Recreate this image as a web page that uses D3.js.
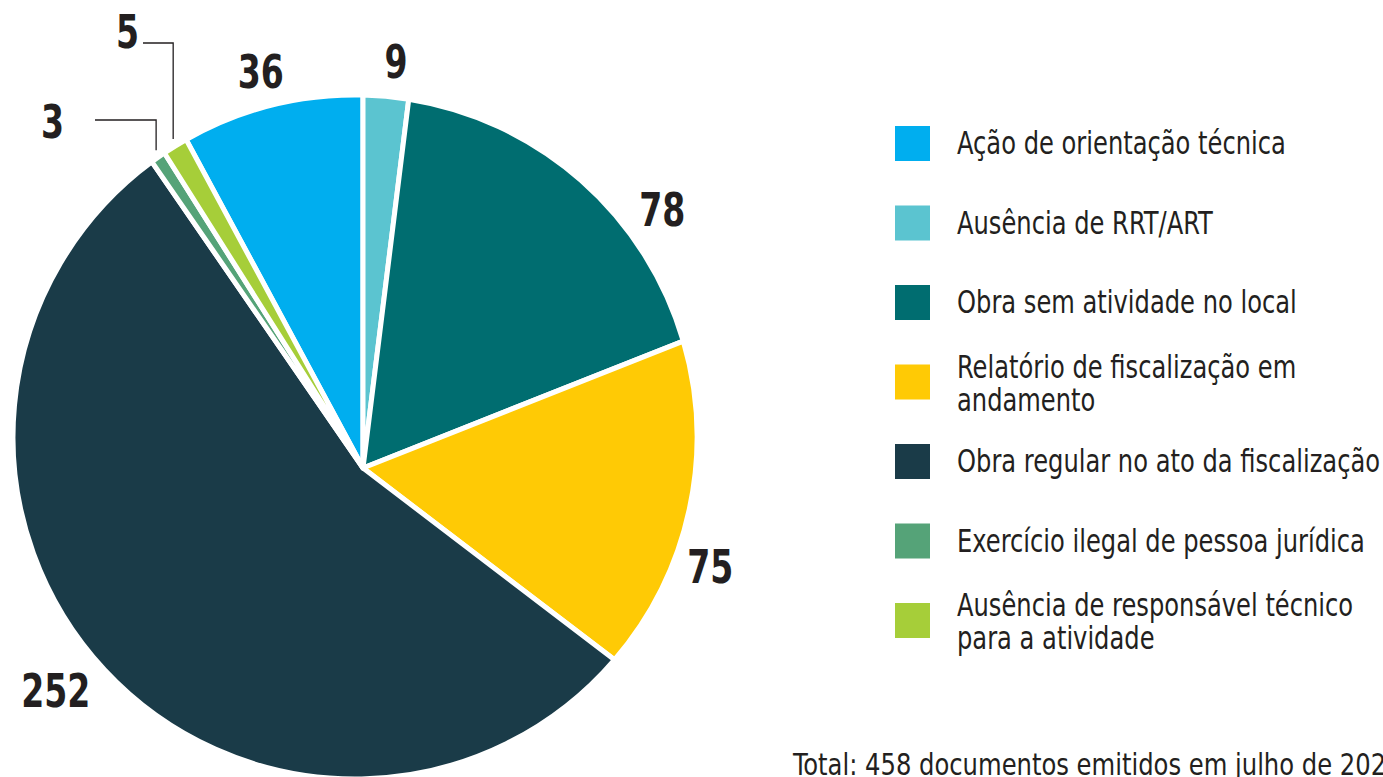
<!doctype html>
<html lang="pt">
<head>
<meta charset="utf-8">
<title>Documentos emitidos</title>
<style>
  html, body { margin: 0; padding: 0; background: #fff; }
  svg text { font-family: "Liberation Sans Narrow", "DejaVu Sans Condensed", sans-serif; fill: #231f20; }
</style>
</head>
<body>
<div id="chart"></div>
<script src="https://cdn.jsdelivr.net/npm/d3@7"></script>
<script>
// data, in legend order
var categories = [
  "Ação de orientação técnica",
  "Ausência de RRT/ART",
  "Obra sem atividade no local",
  "Relatório de fiscalização em andamento",
  "Obra regular no ato da fiscalização",
  "Exercício ilegal de pessoa jurídica",
  "Ausência de responsável técnico para a atividade"
];
var values = [36, 9, 78, 75, 252, 3, 5];
var colors = ["#00aeef", "#5bc4d0", "#006d70", "#ffca05", "#1a3b48", "#55a378", "#a6ce39"];
var footerText = "Total: {n} documentos emitidos em julho de 2024";

// legend lines (wrapped as in the picture)
var legendLines = [
  ["Ação de orientação técnica"],
  ["Ausência de RRT/ART"],
  ["Obra sem atividade no local"],
  ["Relatório de fiscalização em", "andamento"],
  ["Obra regular no ato da fiscalização"],
  ["Exercício ilegal de pessoa jurídica"],
  ["Ausência de responsável técnico", "para a atividade"]
];

var W = 1383, H = 777;
var narrow = 0.84;   // squeeze DejaVu Condensed to the narrow face of the original
var svg = d3.select("#chart").append("svg")
    .attr("width", W).attr("height", H);

// pie geometry: outline circle and the (slightly off-centre) apex
var C = {x: 355, y: 437}, R = 342;
var P = {x: 363, y: 468};

var total = d3.sum(values);
var a0 = values[0] / total * 2 * Math.PI;   // first slice sits just left of 12 o'clock
var pie = d3.pie().sort(null).startAngle(-a0).endAngle(2 * Math.PI - a0);
var arcs = pie(values);

// point where a ray from the apex at angle t meets the outline
function rim(t) {
  var ux = Math.sin(t), uy = -Math.cos(t);
  var wx = P.x - C.x, wy = P.y - C.y;
  var b = wx * ux + wy * uy;
  var c = wx * wx + wy * wy - R * R;
  var s = -b + Math.sqrt(b * b - c);
  return {x: P.x + s * ux, y: P.y + s * uy};
}

function slicePath(d) {
  var A = rim(d.startAngle), B = rim(d.endAngle);
  var fa = Math.atan2(A.y - C.y, A.x - C.x), fb = Math.atan2(B.y - C.y, B.x - C.x);
  var span = fb - fa; if (span < 0) span += 2 * Math.PI;
  var p = d3.path();
  p.moveTo(P.x, P.y);
  p.lineTo(A.x, A.y);
  p.arc(C.x, C.y, R, fa, fa + span, false);
  p.closePath();
  return p.toString();
}

svg.append("g").selectAll("path")
  .data(arcs)
  .enter().append("path")
    .attr("d", slicePath)
    .attr("fill", function(d, i) { return colors[i]; })
    .attr("stroke", "#fff")
    .attr("stroke-width", 5)
    .attr("stroke-linejoin", "round");

// value labels for the bigger slices
var labelR = [378, 378, 382, 378, 392, 0, 0];
var labelTweak = [-0.3, 2.7, 15.8, 12.1, 3.4, 0, 0];   // degrees, hand placement
svg.append("g").selectAll("text")
  .data(arcs.filter(function(d) { return d.value > 5; }))
  .enter().append("text")
    .attr("transform", function(d) {
      var t = (d.startAngle + d.endAngle) / 2 + labelTweak[d.index] * Math.PI / 180;
      var r = labelR[d.index];
      return "translate(" + (C.x + r * Math.sin(t)) + "," + (C.y - r * Math.cos(t)) + ") scale(0.8,1)";
    })
    .attr("text-anchor", "middle")
    .attr("dy", "0.36em")
    .style("font-size", "46px")
    .style("font-weight", "bold")
    .text(function(d) { return d.value; });

// callouts for the two thin slices
var callouts = [
  {i: 5, elbowY: 120, endX: 95, textX: 64, textY: 138},
  {i: 6, elbowY: 43, endX: 143, textX: 139, textY: 48}
];
callouts.forEach(function(c) {
  var d = arcs[c.i];
  var t = (d.startAngle + d.endAngle) / 2;
  var q = rim(t);
  var sx = q.x - 2, sy = q.y - 7;
  svg.append("path")
    .attr("d", d3.line()([[sx, sy], [sx, c.elbowY], [c.endX, c.elbowY]]))
    .attr("fill", "none")
    .attr("stroke", "#231f20")
    .attr("stroke-width", 1.3);
  svg.append("text")
    .attr("transform", "translate(" + c.textX + "," + c.textY + ") scale(0.8,1)")
    .attr("text-anchor", "end")
    .style("font-size", "46px")
    .style("font-weight", "bold")
    .text(d.value);
});

// legend
var legendY = d3.scalePoint().domain(d3.range(categories.length)).range([143, 620]);
var lg = svg.append("g").selectAll("g")
  .data(categories)
  .enter().append("g")
    .attr("transform", function(d, i) { return "translate(895," + legendY(i) + ")"; });

lg.append("rect")
  .attr("x", 0).attr("y", -17)
  .attr("width", 35).attr("height", 35)
  .attr("fill", function(d, i) { return colors[i]; });

lg.each(function(d, i) {
  var lines = legendLines[i];
  var y0 = lines.length === 1 ? 11 : -4;
  var t = d3.select(this).append("text")
    .attr("transform", "translate(62,0) scale(" + narrow + ",1)")
    .style("font-size", "32px");
  lines.forEach(function(s, k) {
    t.append("tspan").attr("x", 0).attr("y", y0 + k * 33).text(s);
  });
});

// footer
svg.append("text")
  .attr("transform", "translate(793,775) scale(0.87,1)")
  .style("font-size", "31px")
  .text(footerText.replace("{n}", total));
</script>
</body>
</html>
